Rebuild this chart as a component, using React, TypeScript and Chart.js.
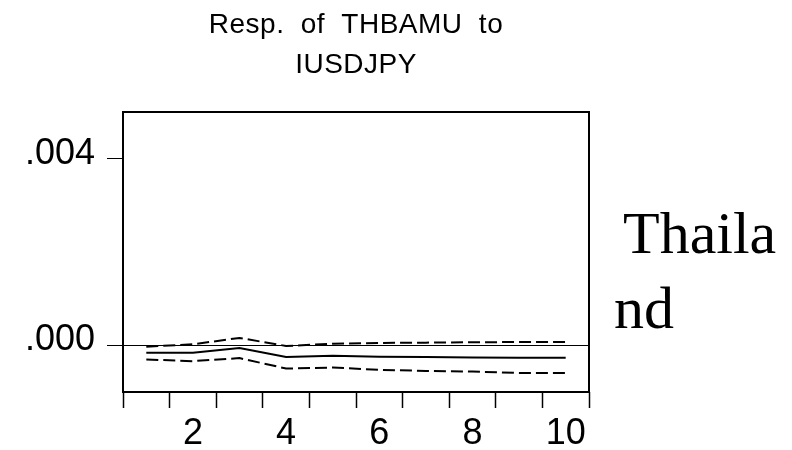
import { useEffect, useRef } from 'react';
import { Chart, registerables } from 'chart.js';

Chart.register(...registerables);

// Impulse response of THBAMU to a shock in IUSDJPY, with ±2 S.E. bands
const periods = ['1', '2', '3', '4', '5', '6', '7', '8', '9', '10'];
const response = [-0.000159, -0.000159, -0.000058, -0.000252, -0.000223, -0.000245, -0.000252, -0.000259, -0.000267, -0.000267];
const upperBand = [-0.000029, 0.000022, 0.000159, -0.000014, 0.000036, 0.000051, 0.000058, 0.000065, 0.000072, 0.000072];
const lowerBand = [-0.000303, -0.000339, -0.000274, -0.000497, -0.000476, -0.000526, -0.000548, -0.000562, -0.000591, -0.000591];
const yTickValues = [0, 0.004];
const titleLines = ['Resp. of THBAMU to', 'IUSDJPY'];
const sideLines = ['Thaila', 'nd'];

const SANS = '"Liberation Sans", Arial, sans-serif';
const SERIF = '"Liberation Serif", "Times New Roman", serif';

const frameAndText = {
  id: 'frameAndText',
  afterDatasetsDraw(chart: any) {
    const { ctx, chartArea: a } = chart;
    ctx.save();
    ctx.strokeStyle = '#000';
    ctx.lineWidth = 2;
    ctx.strokeRect(a.left, a.top, a.right - a.left, a.bottom - a.top);
    ctx.restore();
  },
  afterDraw(chart: any) {
    const { ctx, chartArea: a } = chart;
    const cx = (a.left + a.right) / 2;
    const mid = (a.top + a.bottom) / 2;
    ctx.save();
    ctx.fillStyle = '#000';
    ctx.textBaseline = 'alphabetic';

    // two-line title over the plot
    ctx.font = `28px ${SANS}`;
    ctx.textAlign = 'center';
    (ctx as any).letterSpacing = '0.5px';
    (ctx as any).wordSpacing = '8px';
    ctx.fillText(titleLines[0], cx, a.top - 79);
    ctx.fillText(titleLines[1], cx, a.top - 39);
    (ctx as any).letterSpacing = '0px';
    (ctx as any).wordSpacing = '0px';

    // country label to the right of the plot
    ctx.font = `60px ${SERIF}`;
    ctx.textAlign = 'left';
    ctx.fillText(sideLines[0], a.right + 34, mid + 1);
    ctx.fillText(sideLines[1], a.right + 25, mid + 76);
    ctx.restore();
  },
};

export default function App() {
  const canvasRef = useRef<HTMLCanvasElement | null>(null);

  useEffect(() => {
    const canvas = canvasRef.current;
    if (!canvas) return;
    const chart = new Chart(canvas, {
      type: 'line',
      data: {
        labels: periods,
        datasets: [
          {
            data: upperBand,
            borderColor: '#000',
            borderWidth: 2,
            borderDash: [12, 5],
            pointRadius: 0,
            tension: 0,
          },
          {
            data: response,
            borderColor: '#000',
            borderWidth: 2,
            pointRadius: 0,
            tension: 0,
          },
          {
            data: lowerBand,
            borderColor: '#000',
            borderWidth: 2,
            borderDash: [12, 5],
            pointRadius: 0,
            tension: 0,
          },
        ],
      },
      options: {
        animation: false,
        responsive: true,
        maintainAspectRatio: false,
        layout: { padding: { top: 112, right: 203, left: 0, bottom: 0 } },
        plugins: {
          legend: { display: false },
          title: { display: false },
          tooltip: { enabled: false },
        },
        scales: {
          x: {
            type: 'category',
            offset: true,
            border: { display: false },
            grid: {
              offset: true,
              drawOnChartArea: false,
              drawTicks: true,
              tickLength: 16,
              tickColor: '#000',
              tickWidth: 1.5,
            },
            ticks: {
              autoSkip: false,
              maxRotation: 0,
              minRotation: 0,
              padding: 4,
              color: '#000',
              font: { family: SANS, size: 36 },
              callback: (_v: any, i: number) => ((i + 1) % 2 === 0 ? periods[i] : ''),
            },
            afterFit: (scale: any) => {
              scale.height = 58;
            },
          },
          y: {
            type: 'linear',
            min: -0.001,
            max: 0.005,
            border: { display: false },
            afterBuildTicks: (scale: any) => {
              scale.ticks = yTickValues.map((v) => ({ value: v }));
            },
            grid: {
              drawTicks: true,
              tickLength: 16,
              tickColor: '#000',
              tickWidth: 1,
              lineWidth: 1,
              color: (c: any) => (c.tick && c.tick.value === 0 ? '#000' : 'rgba(0,0,0,0)'),
            },
            ticks: {
              padding: 12,
              labelOffset: -5,
              color: '#000',
              font: { family: SANS, size: 36 },
              callback: (v: any) => Number(v).toFixed(3).replace(/^0/, '').replace(/^-0/, '-'),
            },
            afterFit: (scale: any) => {
              scale.width = 123;
            },
          },
        },
      },
      plugins: [frameAndText],
    });
    return () => chart.destroy();
  }, []);

  return (
    <div style={{ position: 'fixed', left: 0, top: 0, width: 792, height: 450, background: '#fff' }}>
      <canvas ref={canvasRef} />
    </div>
  );
}
